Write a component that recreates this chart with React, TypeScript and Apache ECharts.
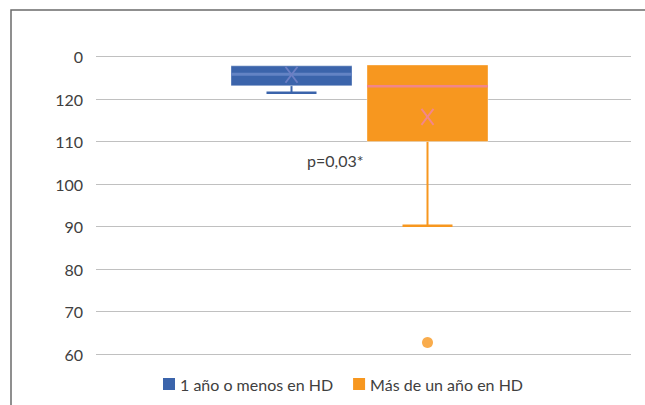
import React, { useEffect, useRef } from "react";
import * as echarts from "echarts";

const categories = ["1 año o menos en HD", "Más de un año en HD"];
const minVals = [121.5, 90.2];
const q1Vals = [123.1, 110.0];
const medianVals = [125.8, 123.0];
const q3Vals = [127.8, 128.0];
const maxVals = [127.8, 128.0];
const meanVals = [125.7, 115.8];
const outlierVals = [[], [62.7]];
const yTicks = [60, 70, 80, 90, 100, 110, 120, 130];
const yTickLabels = ["60", "70", "80", "90", "100", "110", "120", "0"];
const pText = "p=0,03*";

const boxColors = ["#3b64ab", "#f7971f"];
const medianColors = ["#6383c4", "#f2858a"];
const meanColors = ["#6c7fc4", "#f3868b"];
const offsets = [-72, 64];
const FONT = "Lato";

export default function App() {
  const ref = useRef<HTMLDivElement>(null);
  useEffect(() => {
    if (!ref.current) return;
    const chart = echarts.init(ref.current, null, { renderer: "svg" });
    const makeRender = (idx: number) => (params: any, api: any) => {
      const c = api.coord([0, api.value(3)]);
      const x = c[0] + offsets[idx];
      const yMin = api.coord([0, api.value(1)])[1];
      const yQ1 = api.coord([0, api.value(2)])[1];
      const yMed = api.coord([0, api.value(3)])[1];
      const yQ3 = api.coord([0, api.value(4)])[1];
      const yMax = api.coord([0, api.value(5)])[1];
      const yMean = api.coord([0, api.value(6)])[1];
      const bw = 121;
      const cap = 50;
      const col = boxColors[idx];
      const children: any[] = [];
      children.push({
        type: "line",
        shape: { x1: x, y1: yQ1, x2: x, y2: yMin },
        style: { stroke: col, lineWidth: 2 },
      });
      children.push({
        type: "line",
        shape: { x1: x - cap / 2, y1: yMin, x2: x + cap / 2, y2: yMin },
        style: { stroke: col, lineWidth: 2.5 },
      });
      if (yMax < yQ3 - 0.5) {
        children.push({
          type: "line",
          shape: { x1: x, y1: yQ3, x2: x, y2: yMax },
          style: { stroke: col, lineWidth: 2 },
        });
        children.push({
          type: "line",
          shape: { x1: x - cap / 2, y1: yMax, x2: x + cap / 2, y2: yMax },
          style: { stroke: col, lineWidth: 2.5 },
        });
      }
      children.push({
        type: "rect",
        shape: { x: x - bw / 2, y: yQ3, width: bw, height: yQ1 - yQ3 },
        style: { fill: col, stroke: "rgba(255,255,255,0.35)", lineWidth: 1 },
      });
      children.push({
        type: "line",
        shape: { x1: x - bw / 2, y1: yMed, x2: x + bw / 2, y2: yMed },
        style: { stroke: medianColors[idx], lineWidth: idx === 0 ? 3 : 2.5 },
      });
      const mw = 6;
      const mh = 8;
      children.push({
        type: "line",
        shape: { x1: x - mw, y1: yMean - mh, x2: x + mw, y2: yMean + mh },
        style: { stroke: meanColors[idx], lineWidth: 1.8 },
      });
      children.push({
        type: "line",
        shape: { x1: x + mw, y1: yMean - mh, x2: x - mw, y2: yMean + mh },
        style: { stroke: meanColors[idx], lineWidth: 1.8 },
      });
      return { type: "group", children };
    };

    const series: any[] = categories.map((name, i) => ({
      name,
      type: "custom",
      renderItem: makeRender(i),
      itemStyle: { color: boxColors[i] },
      encode: { x: 0, y: [1, 2, 3, 4, 5, 6] },
      data: [[0, minVals[i], q1Vals[i], medianVals[i], q3Vals[i], maxVals[i], meanVals[i]]],
      z: 3,
    }));
    categories.forEach((name, i) => {
      if (outlierVals[i].length) {
        series.push({
          name,
          type: "scatter",
          symbol: "circle",
          symbolSize: 11,
          symbolOffset: [offsets[i], 0],
          itemStyle: { color: boxColors[i] },
          data: outlierVals[i].map((v) => [0, v]),
          z: 4,
        });
      }
    });

    chart.setOption({
      animation: false,
      textStyle: { fontFamily: FONT },
      grid: { left: 96, right: 14, top: 56.5, bottom: 51, containLabel: false },
      xAxis: {
        type: "category",
        data: [""],
        axisLine: { show: false },
        axisTick: { show: false },
        axisLabel: { show: false },
        splitLine: { show: false },
      },
      yAxis: {
        type: "value",
        min: 60,
        max: 130,
        interval: 10,
        axisLine: { show: false },
        axisTick: { show: false },
        axisLabel: {
          color: "#404040",
          fontSize: 16,
          fontFamily: FONT,
          margin: 13,
          formatter: (v: number) => {
            const k = yTicks.indexOf(v);
            return k >= 0 ? yTickLabels[k] : String(v);
          },
        },
        splitLine: { lineStyle: { color: "#c0c0c0", width: 1 } },
      },
      legend: {
        data: categories.map((n) => ({ name: n, icon: "rect" })),
        bottom: 8,
        left: 158,
        itemWidth: 12,
        itemHeight: 12,
        itemGap: 20,
        textStyle: { color: "#404040", fontSize: 16, fontFamily: FONT },
      },
      graphic: [
        {
          type: "rect",
          shape: { x: 11, y: 10, width: 800, height: 500 },
          style: { fill: "none", stroke: "#6b6b6b", lineWidth: 1.5 },
          silent: true,
        },
        {
          type: "text",
          left: 307,
          top: 152,
          style: { text: pText, fill: "#404040", fontSize: 16, fontFamily: FONT },
        },
      ],
      series,
    });
    return () => chart.dispose();
  }, []);
  return (
    <div
      ref={ref}
      style={{ position: "fixed", left: 0, top: 0, width: 645, height: 405, background: "#fff" }}
    />
  );
}
